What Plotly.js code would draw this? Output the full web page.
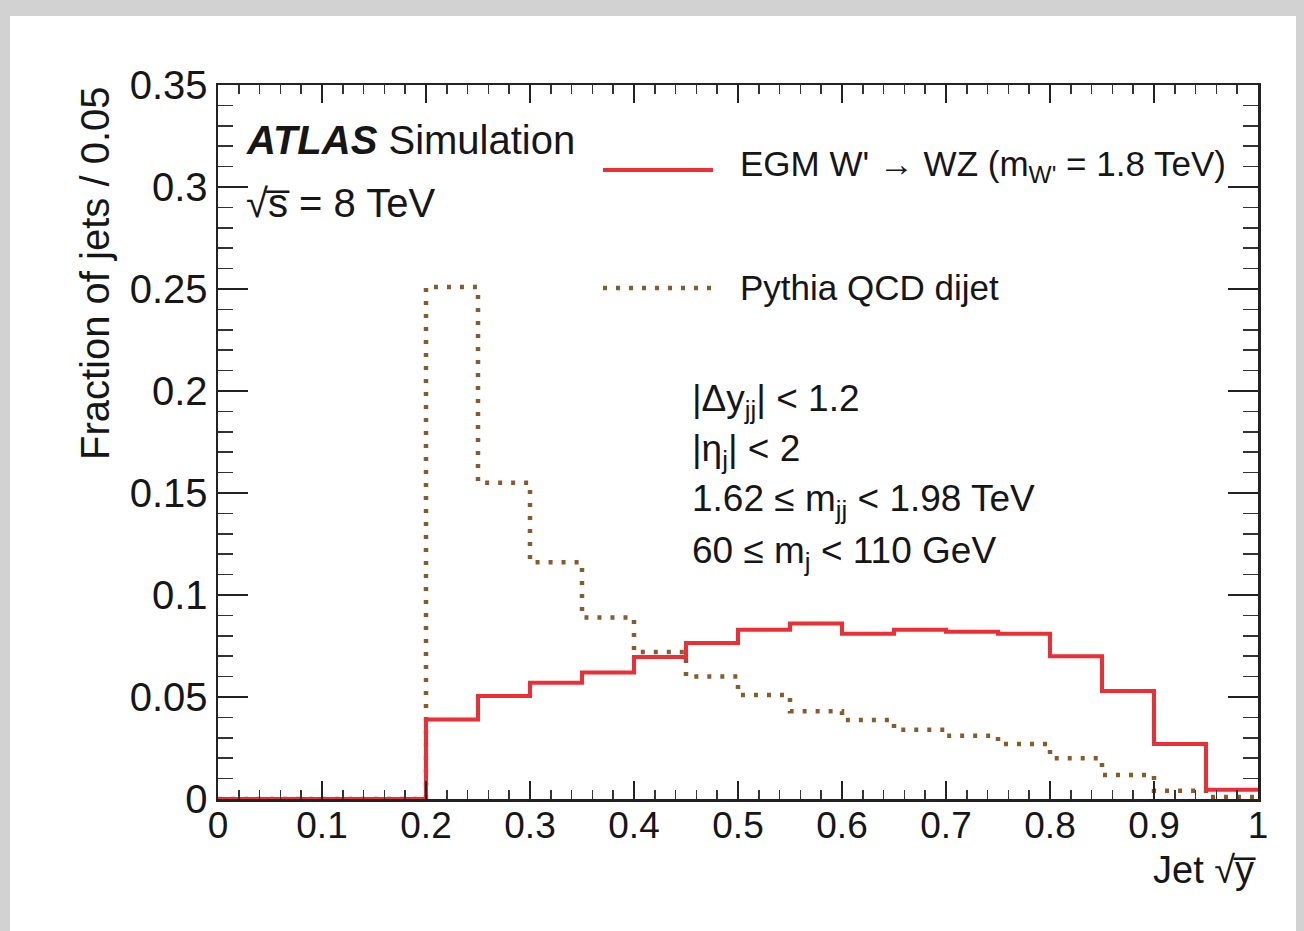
<!DOCTYPE html>
<html>
<head>
<meta charset="utf-8">
<script src="https://cdn.plot.ly/plotly-3.0.1.min.js"></script>
<style>html,body{margin:0;padding:0;background:#d2d2d2;}#chart{width:1304px;height:931px;}</style>
</head>
<body>
<div id="chart"></div>
<script>
// Bin edges of Jet sqrt(y) (bin width 0.05)
const binEdges = [0, 0.05, 0.1, 0.15, 0.2, 0.25, 0.3, 0.35, 0.4, 0.45, 0.5,
                  0.55, 0.6, 0.65, 0.7, 0.75, 0.8, 0.85, 0.9, 0.95, 1.0];
// Fraction of jets per bin (20 bins)
const wprimeValues = [0, 0, 0, 0, 0.039, 0.0505, 0.057, 0.062, 0.0696, 0.0765,
                      0.083, 0.086, 0.081, 0.083, 0.082, 0.081, 0.070, 0.053, 0.027, 0.0045];
const qcdValues = [0, 0, 0, 0, 0.251, 0.155, 0.116, 0.089, 0.072, 0.060,
                   0.051, 0.043, 0.0387, 0.034, 0.031, 0.027, 0.020, 0.0118, 0.004, 0.001];
const seriesNames = ["EGM W' \u2192 WZ (m<sub>W'</sub> = 1.8 TeV)", "Pythia QCD dijet"];
const cutLabels = [
  "|\u0394y<sub>jj</sub>| < 1.2",
  "|\u03b7<sub>j</sub>| < 2",
  "1.62 \u2264 m<sub>jj</sub> < 1.98 TeV",
  "60 \u2264 m<sub>j</sub> < 110 GeV"
];

function stepY(vals) { return vals.concat([vals[vals.length - 1]]); }

const RED = '#ec2f35';
const BROWN = '#8a5a2c';
const FONT = 'Liberation Sans, Arial, Helvetica, sans-serif';
const TXT = '#161616';

const traces = [
  {
    x: binEdges, y: stepY(qcdValues), type: 'scatter', mode: 'lines',
    line: {shape: 'hv', color: BROWN, width: 4.5, dash: '4px,9px'},
    name: seriesNames[1], showlegend: false, hoverinfo: 'x+y'
  },
  {
    x: binEdges, y: stepY(wprimeValues), type: 'scatter', mode: 'lines',
    line: {shape: 'hv', color: RED, width: 4},
    name: seriesNames[0], showlegend: false, hoverinfo: 'x+y'
  }
];

// pixel -> paper helpers (plot area: x 218..1258, y 85..799)
const L = 218, R = 1258, T = 85, B = 799;
const px = v => (v - L) / (R - L);
const py = v => (B - v) / (B - T);

function ann(text, x, y, xanchor, size, extra) {
  return Object.assign({
    text: text, x: x, y: y, xref: 'paper', yref: 'paper', showarrow: false,
    xanchor: xanchor, yanchor: 'middle',
    font: {family: FONT, size: size, color: TXT}
  }, extra || {});
}

const annotations = [
  ann('<b><i>ATLAS</i></b> Simulation', px(244), py(140), 'left', 40),
  ann('\u221As\u0305 = 8 TeV', px(244), py(203), 'left', 40),
  ann(seriesNames[0], px(738), py(166), 'left', 35),
  ann(seriesNames[1], px(738), py(287), 'left', 35),
  ann(cutLabels[0], px(690), py(401), 'left', 37),
  ann(cutLabels[1], px(690), py(451), 'left', 37),
  ann(cutLabels[2], px(690), py(501), 'left', 37),
  ann(cutLabels[3], px(690), py(553), 'left', 37),
  ann('Fraction of jets / 0.05', px(95), py(273), 'center', 40, {textangle: -90}),
  ann('Jet \u221Ay\u0305', 1, py(870), 'right', 38)
];

const shapes = [
  // white panel behind the figure
  {type: 'rect', xref: 'paper', yref: 'paper', layer: 'below',
   x0: px(10), x1: px(1296), y0: py(935), y1: py(16),
   fillcolor: '#ffffff', line: {width: 0}},
  // legend samples
  {type: 'line', xref: 'paper', yref: 'paper', x0: px(603), x1: px(713), y0: py(170), y1: py(170),
   line: {color: RED, width: 4}},
  {type: 'line', xref: 'paper', yref: 'paper', x0: px(603), x1: px(713), y0: py(288), y1: py(288),
   line: {color: BROWN, width: 4.5, dash: '4px,9px'}}
];

const layout = {
  width: 1304, height: 931,
  margin: {l: L, r: 1304 - R, t: T, b: 931 - B},
  paper_bgcolor: '#d2d2d2',
  plot_bgcolor: 'rgba(0,0,0,0)',
  showlegend: false,
  font: {family: FONT, color: TXT, size: 38},
  xaxis: {
    range: [0, 1], tickmode: 'linear', tick0: 0, dtick: 0.1,
    ticks: 'inside', ticklen: 18, tickwidth: 2, tickcolor: '#222',
    minor: {tickmode: 'linear', tick0: 0, dtick: 0.02, ticks: 'inside', ticklen: 9, tickwidth: 1.5, tickcolor: '#333'},
    showline: true, linecolor: '#222', linewidth: 2.5, mirror: 'allticks',
    showgrid: false, zeroline: false, ticklabelstandoff: -8,
    tickfont: {family: FONT, size: 37, color: TXT}
  },
  yaxis: {
    range: [0, 0.35], tickmode: 'linear', tick0: 0, dtick: 0.05,
    ticks: 'inside', ticklen: 30, tickwidth: 2, tickcolor: '#222',
    minor: {tickmode: 'linear', tick0: 0, dtick: 0.01, ticks: 'inside', ticklen: 15, tickwidth: 1.5, tickcolor: '#333'},
    showline: true, linecolor: '#222', linewidth: 2.5, mirror: 'allticks',
    showgrid: false, zeroline: false,
    tickfont: {family: FONT, size: 40, color: TXT}
  },
  annotations: annotations,
  shapes: shapes
};

Plotly.newPlot('chart', traces, layout, {displayModeBar: false, staticPlot: true});
</script>
</body>
</html>
